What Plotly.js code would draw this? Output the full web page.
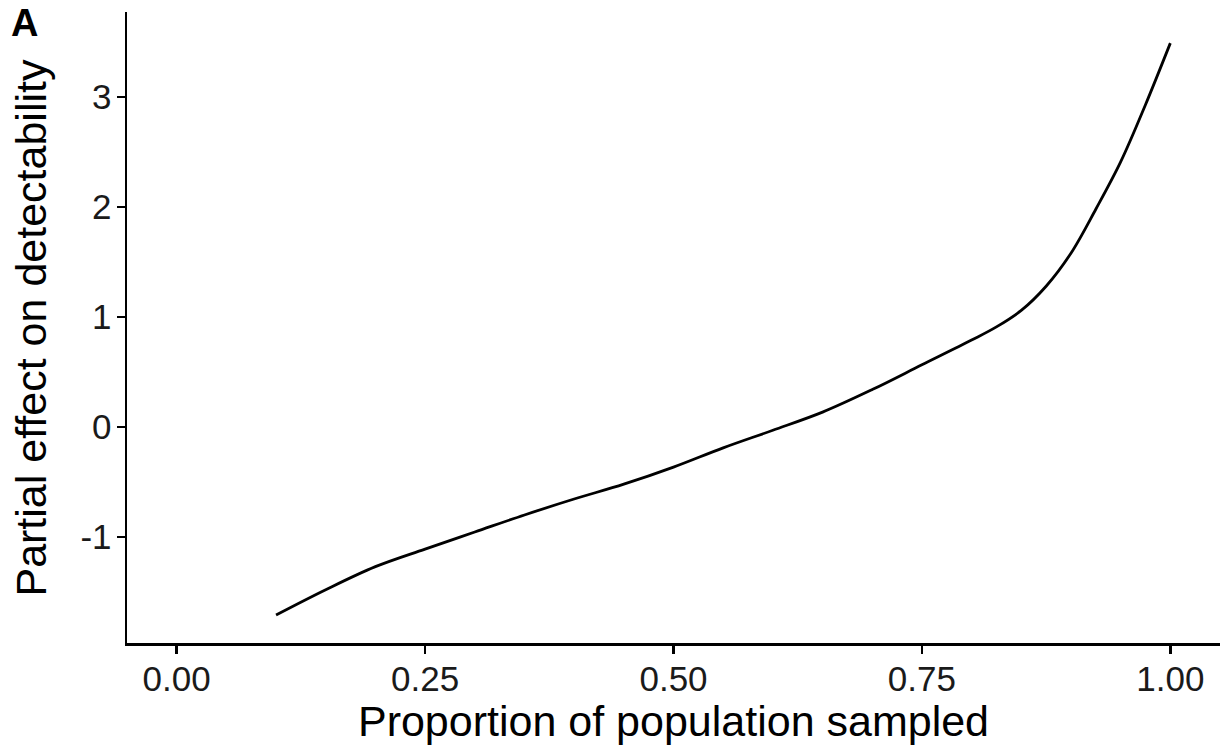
<!DOCTYPE html>
<html>
<head>
<meta charset="utf-8">
<script src="https://cdn.plot.ly/plotly-3.0.1.min.js"></script>
<style>
  html, body { margin: 0; padding: 0; background: #ffffff; }
  #chart { width: 1225px; height: 753px; }
</style>
</head>
<body>
<div id="chart"></div>
<script>
// Smoothed partial effect of sampling proportion on detectability
const proportionSampled = [0.10, 0.15, 0.20, 0.25, 0.30, 0.35, 0.40, 0.45, 0.50, 0.55,
                           0.60, 0.65, 0.70, 0.75, 0.80, 0.825, 0.85, 0.875, 0.90, 0.925,
                           0.95, 0.975, 1.00];
const partialEffect = [-1.71, -1.48, -1.27, -1.11, -0.955, -0.80, -0.655, -0.52, -0.365, -0.19,
                       -0.03, 0.135, 0.34, 0.565, 0.79, 0.91, 1.06, 1.28, 1.58, 1.98,
                       2.41, 2.93, 3.49];

const xTicks = [0, 0.25, 0.5, 0.75, 1.0];
const xTickLabels = ['0.00', '0.25', '0.50', '0.75', '1.00'];
const yTicks = [-1, 0, 1, 2, 3];
const yTickLabels = ['-1', '0', '1', '2', '3'];

const xTitle = 'Proportion of population sampled';
const yTitle = 'Partial effect on detectability';
const panelTag = 'A';

const font = 'Liberation Sans, Arial, Helvetica, sans-serif';

const trace = {
  x: proportionSampled,
  y: partialEffect,
  type: 'scatter',
  mode: 'lines',
  line: { color: '#000000', width: 2.8, shape: 'spline', smoothing: 1 },
  hoverinfo: 'x+y'
};

const axisCommon = {
  showgrid: false,
  zeroline: false,
  showline: true,
  linecolor: '#000000',
  linewidth: 2.5,
  ticks: 'outside',
  ticklen: 8,
  tickwidth: 2.5,
  tickcolor: '#000000',
  tickfont: { family: font, size: 35, color: '#1a1a1a' },
  tickmode: 'array'
};

const layout = {
  width: 1225,
  height: 753,
  paper_bgcolor: '#ffffff',
  plot_bgcolor: '#ffffff',
  margin: { l: 127, r: 5, t: 12, b: 110 },
  showlegend: false,
  font: { family: font, color: '#000000' },
  xaxis: Object.assign({}, axisCommon, {
    range: [-0.05, 1.05],
    tickvals: xTicks,
    ticktext: xTickLabels,
    ticklabelstandoff: -5,
    title: { text: xTitle, font: { family: font, size: 43, color: '#000000' }, standoff: 9 }
  }),
  yaxis: Object.assign({}, axisCommon, {
    range: [-1.964, 3.773],
    tickvals: yTicks,
    ticktext: yTickLabels,
    ticklabelstandoff: -2
  }),
  annotations: [
    {
      // y-axis title, placed as rotated text beside the tick labels
      text: yTitle,
      textangle: -90,
      xref: 'paper', yref: 'paper',
      x: -0.0887, y: 0.5,
      xanchor: 'center', yanchor: 'middle',
      showarrow: false,
      font: { family: font, size: 43, color: '#000000' }
    },
    {
      // panel tag
      text: '<b>' + panelTag + '</b>',
      xref: 'paper', yref: 'paper',
      x: -0.0942, y: 0.9818,
      xanchor: 'center', yanchor: 'middle',
      showarrow: false,
      font: { family: font, size: 38, color: '#000000' }
    }
  ]
};

Plotly.newPlot('chart', [trace], layout, { displayModeBar: false, staticPlot: true });
</script>
</body>
</html>
